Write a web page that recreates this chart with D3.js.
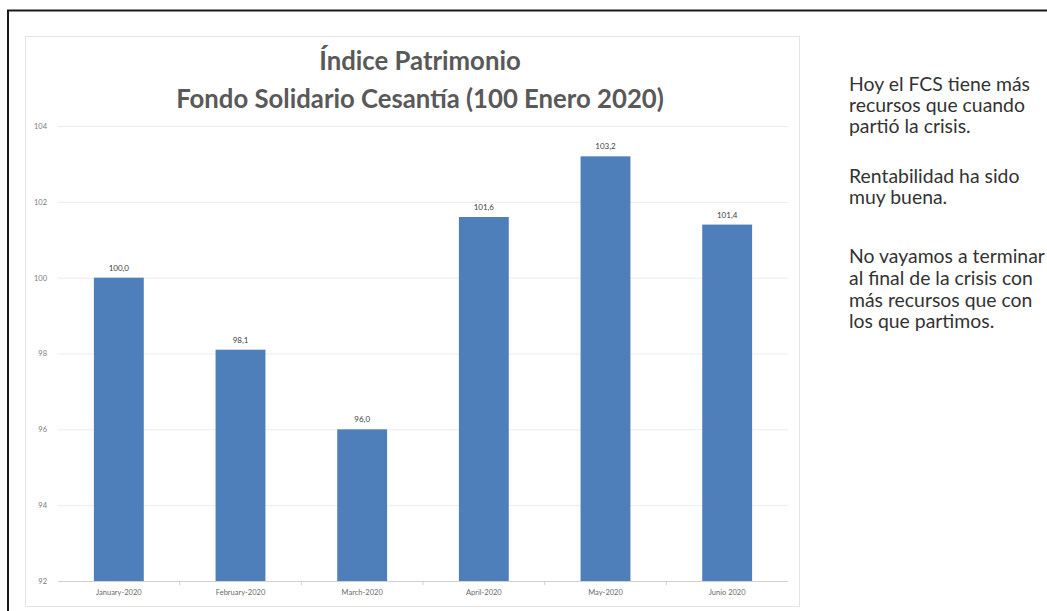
<!DOCTYPE html>
<html><head><meta charset="utf-8">
<script src="https://cdn.jsdelivr.net/npm/d3@7"></script>
<style>body{margin:0;background:#fff;}svg{display:block;}</style>
</head><body>
<svg id="c" width="1047" height="611"></svg>
<script>
const categories = ["January-2020","February-2020","March-2020","April-2020","May-2020","Junio 2020"];
const values = [100.0, 98.1, 96.0, 101.6, 103.2, 101.4];
const yTicks = [92, 94, 96, 98, 100, 102, 104];
const titleLines = ["Índice Patrimonio", "Fondo Solidario Cesantía (100 Enero 2020)"];
const noteLines = ["Hoy el FCS tiene más","recursos que cuando","partió la crisis.","Rentabilidad ha sido","muy buena.","No vayamos a terminar","al final de la crisis con","más recursos que con","los que partimos."];
const noteY = [86,107,128,178,199,258,280,302,323];

const svg = d3.select("#c");
svg.append("path").attr("d","M8,611 V10.5 H1047").attr("fill","none").attr("stroke","#1a1a1a").attr("stroke-width",2);
svg.append("rect").attr("x",25.5).attr("y",36.5).attr("width",774).attr("height",570).attr("fill","#fff").attr("stroke","#e3e3e3");

const x = d3.scaleBand().domain(categories).range([58,788]).paddingInner(0.59).paddingOuter(0.295);
const y = d3.scaleLinear().domain([92,104]).range([581,126]);

svg.append("g").selectAll("line").data(yTicks).join("line")
  .attr("x1",58).attr("x2",788).attr("y1",d=>y(d)+0.5).attr("y2",d=>y(d)+0.5)
  .attr("stroke",d=>d===92?"#d0d0d0":"#ececec");

const yAxis = d3.axisLeft(y).tickValues(yTicks).tickSize(0).tickPadding(0).tickFormat(d3.format("d"));
const ga = svg.append("g").attr("transform","translate(47,0)").call(yAxis);
ga.select(".domain").remove();
ga.selectAll("text").attr("font-family","Lato, sans-serif").attr("font-size",7.5).attr("fill","#7a7a7a");

svg.append("g").selectAll("line").data(categories.slice(1)).join("line")
  .attr("x1",d=>x(d)-(x.step()-x.bandwidth())/2).attr("x2",d=>x(d)-(x.step()-x.bandwidth())/2)
  .attr("y1",581).attr("y2",585).attr("stroke","#d0d0d0");

const xAxis = d3.axisBottom(x).tickSize(0).tickPadding(9);
const gx = svg.append("g").attr("transform","translate(0,581)").call(xAxis);
gx.select(".domain").remove();
gx.selectAll("text").attr("font-family","Lato, sans-serif").attr("font-size",7.5).attr("fill","#6a6a6a");

svg.append("g").selectAll("rect").data(values).join("rect")
  .attr("x",(d,i)=>x(categories[i])).attr("width",x.bandwidth())
  .attr("y",d=>y(d)).attr("height",d=>y(92)-y(d))
  .attr("fill","#4f7fbb");

const fmt = v => v.toFixed(1).replace(".",",");
svg.append("g").selectAll("text").data(values).join("text")
  .attr("x",(d,i)=>x(categories[i])+x.bandwidth()/2).attr("y",d=>y(d)-7)
  .attr("text-anchor","middle").attr("font-family","Lato, sans-serif").attr("font-size",8)
  .attr("fill","#404040").text(fmt);

// title, fitted so the second line spans about 488px
const tt = svg.append("g").selectAll("text").data(titleLines).join("text")
  .attr("x",420).attr("y",(d,i)=>70+i*38).attr("text-anchor","middle")
  .attr("font-family","Lato, sans-serif").attr("font-weight",700).attr("font-size",20)
  .attr("fill","#595959").text(d=>d);
const tw = tt.nodes()[1].getComputedTextLength();
tt.attr("font-size", 20*488/tw);

// notes, fitted so the widest line spans about 196px
const nt = svg.append("g").selectAll("text").data(noteLines).join("text")
  .attr("x",849).attr("y",(d,i)=>noteY[i]+5).attr("font-family","Lato, sans-serif")
  .attr("font-size",15).attr("fill","#333").text(d=>d);
const nw = nt.nodes()[5].getComputedTextLength();
nt.attr("font-size", 15*196/nw);
</script>
</body></html>
